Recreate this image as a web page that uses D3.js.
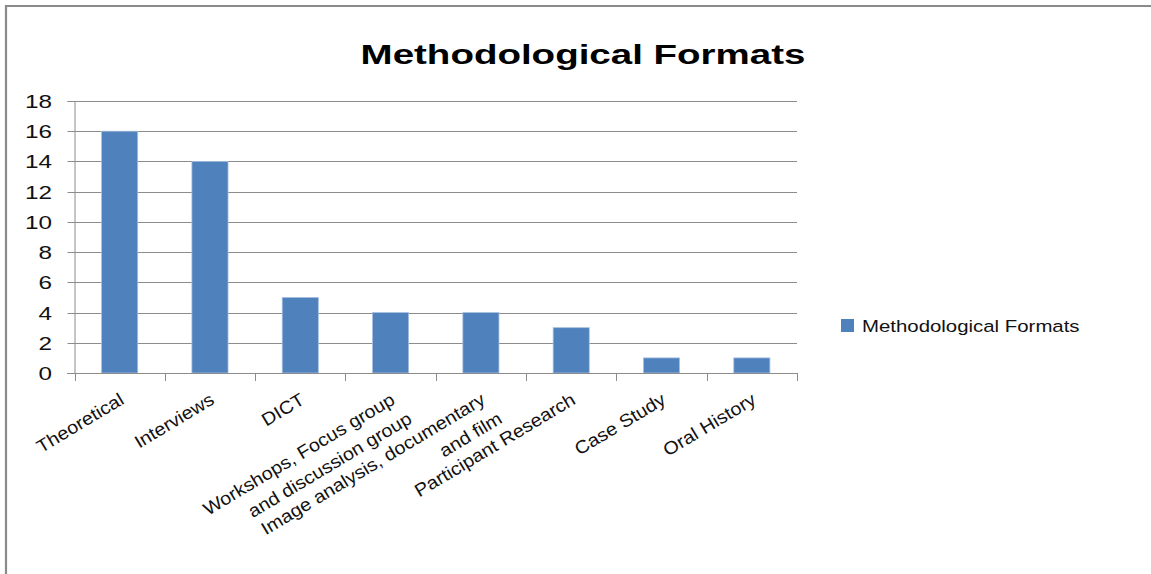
<!DOCTYPE html>
<html>
<head>
<meta charset="utf-8">
<script src="https://cdn.jsdelivr.net/npm/d3@7"></script>
<style>
  html, body { margin: 0; padding: 0; background: #fff; }
  svg { display: block; font-family: "Liberation Sans", Arial, sans-serif; }
</style>
</head>
<body>
<svg id="chart" width="1151" height="574"></svg>
<script>
// Chart data
const categories = [
  "Theoretical",
  "Interviews",
  "DICT",
  "Workshops, Focus group\nand discussion group",
  "Image analysis, documentary\nand film",
  "Participant Research",
  "Case Study",
  "Oral History"
];
const values = [16, 14, 5, 4, 4, 3, 1, 1];
const yTicks = [0, 2, 4, 6, 8, 10, 12, 14, 16, 18];
const seriesName = "Methodological Formats";
const chartTitle = "Methodological Formats";

const svg = d3.select("#chart");
const W = 1151, H = 574;
const plot = { left: 74.5, right: 797, top: 101, bottom: 373 };
const gridColor = "#8c8c8c";
const barColor = "#4f81bd";

// Outer frame (only top and left edges are visible in the window)
svg.append("path")
  .attr("d", `M6,${H + 10} L6,6 L${W + 10},6`)
  .attr("fill", "none")
  .attr("stroke", "#8a8a8a")
  .attr("stroke-width", 2.2);

const x = d3.scaleBand()
  .domain(categories)
  .range([plot.left, plot.right])
  .paddingInner(0.6)
  .paddingOuter(0.3);

const y = d3.scaleLinear()
  .domain([0, 18])
  .range([plot.bottom, plot.top]);

// Horizontally stretched text helper
function stretchedText(parent, tx, ty, str, opts) {
  const g = parent.append("g")
    .attr("transform", `translate(${tx},${ty})` + (opts.rotate ? ` rotate(${opts.rotate})` : "") + ` scale(${opts.sx || 1},1)`);
  g.append("text")
    .attr("text-anchor", opts.anchor || "start")
    .attr("font-size", opts.size)
    .attr("font-weight", opts.weight || "normal")
    .attr("fill", opts.fill || "#000")
    .text(str);
  return g;
}

// Gridlines
svg.append("g")
  .selectAll("line")
  .data(yTicks.filter(d => d > 0))
  .join("line")
  .attr("x1", 74)
  .attr("x2", plot.right)
  .attr("y1", d => Math.round(y(d)) + 0.5)
  .attr("y2", d => Math.round(y(d)) + 0.5)
  .attr("stroke", gridColor)
  .attr("stroke-width", 1);

// Bars
svg.append("g")
  .selectAll("rect")
  .data(values)
  .join("rect")
  .attr("x", (d, i) => x(categories[i]))
  .attr("y", d => y(d))
  .attr("width", x.bandwidth())
  .attr("height", d => y(0) - y(d))
  .attr("fill", barColor)
  .attr("stroke", "#a9c1e0")
  .attr("stroke-width", 0.8);

// Y axis
const yAxis = d3.axisLeft(y).tickValues(yTicks).tickSize(7).tickFormat("");
const gy = svg.append("g")
  .attr("transform", `translate(74.5,0)`)
  .call(yAxis);
gy.select(".domain").attr("stroke", gridColor);
gy.selectAll(".tick line").attr("stroke", gridColor);
gy.selectAll(".tick").attr("transform", d => `translate(0,${Math.round(y(d)) + 0.5})`);

yTicks.forEach(t => {
  stretchedText(svg, 52, Math.round(y(t)) + 7, String(t), { anchor: "end", size: 18, sx: 1.35, fill: "#111" });
});

// X axis
const xEdges = d3.range(categories.length + 1).map(i => plot.left + i * x.step());
svg.append("line")
  .attr("x1", 67).attr("x2", plot.right)
  .attr("y1", plot.bottom + 0.5).attr("y2", plot.bottom + 0.5)
  .attr("stroke", gridColor);
svg.append("g")
  .selectAll("line")
  .data(xEdges)
  .join("line")
  .attr("x1", d => Math.round(d) + 0.5)
  .attr("x2", d => Math.round(d) + 0.5)
  .attr("y1", plot.bottom)
  .attr("y2", plot.bottom + 8)
  .attr("stroke", gridColor);

// Category labels, rotated, right-aligned at each band
const labelAngle = -31;
categories.forEach((c, i) => {
  const cx = x(c) + x.bandwidth() / 2;
  const lines = c.split("\n");
  const g = svg.append("g")
    .attr("transform", `translate(${cx + 5.5},${plot.bottom + 30}) rotate(${labelAngle})`);
  lines.forEach((ln, j) => {
    g.append("g")
      .attr("transform", `translate(${j * 4.8},${j * 25}) scale(1.1,1)`)
      .append("text")
      .attr("text-anchor", "end")
      .attr("font-size", 18)
      .attr("fill", "#111")
      .text(ln);
  });
});

// Title
stretchedText(svg, 583, 64, chartTitle, { anchor: "middle", size: 28, weight: "bold", sx: 1.375 });

// Legend
svg.append("rect")
  .attr("x", 841).attr("y", 319)
  .attr("width", 13).attr("height", 13)
  .attr("fill", barColor);
stretchedText(svg, 862, 332, seriesName, { anchor: "start", size: 17, sx: 1.2, fill: "#111" });
</script>
</body>
</html>
